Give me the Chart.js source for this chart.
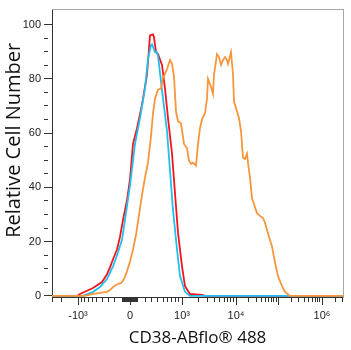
<!DOCTYPE html>
<html>
<head>
<meta charset="utf-8">
<script src="https://cdn.jsdelivr.net/npm/chart.js@4/dist/chart.umd.min.js"></script>
<style>
  html, body { margin: 0; background: #fff; }
  canvas { display: block; }
</style>
</head>
<body>
<canvas id="histChart" width="351" height="350"></canvas>
<script>
// x values are display channels of the biexponential axis (0 = fluorescence 0)
const redX = [-78, -53, -50, -37, -28, -23, -20, -17, -13, -10, -7, -3, 0, 3, 7, 12, 17, 20, 23, 24, 26, 28, 32, 35, 38, 42, 45, 48, 52, 55, 60, 72, 75, 213];
const redY = [0, 0, 0.7, 2.9, 5.1, 8.0, 10.5, 13.5, 17.1, 21.8, 28, 35.3, 43, 56, 61.8, 70.5, 81.5, 96, 96.4, 95.3, 89.8, 89.1, 85.1, 76.4, 65.5, 52.4, 37.8, 23.3, 10.9, 3.6, 0.7, 0.4, 0, 0];

const cyanX = [-78, -47, -37, -30, -23, -17, -12, -8, -5, 0, 5, 10, 15, 18, 21, 22, 25, 27, 28, 33, 37, 40, 43, 47, 50, 55, 60, 213];
const cyanY = [0, 0, 1.5, 3.3, 6.2, 10.9, 16, 20.7, 28, 40.7, 56, 65.5, 76.4, 87.3, 92.4, 92.7, 89.8, 89.8, 88.4, 72.7, 60.7, 46.2, 31.6, 17.1, 7.3, 1.5, 0, 0];

const orangeX = [-78, -45, -38, -30, -23, -20, -16, -12, -9, -6, -3, 0, 3, 6, 9, 12, 15, 18, 21, 23, 25, 28, 31, 33, 35, 37, 40, 42, 44, 46, 48, 51, 54, 57, 59, 61, 63, 66, 68, 70, 72, 75, 77, 78, 81, 83, 84, 87, 89, 91, 93, 95, 97, 98, 101, 103, 104, 107, 109, 111, 113, 115, 117, 118, 120, 122, 125, 127, 130, 133, 135, 137, 139, 142, 145, 148, 152, 155, 160, 213];
const orangeY = [0, 0, 0.7, 1.1, 1.5, 2.2, 3.6, 4.4, 4.7, 6.2, 9.1, 12.7, 17.1, 22.5, 29.8, 37.1, 43.6, 49.1, 58.9, 67.3, 72.7, 76, 76.4, 80.4, 81.8, 83.6, 86.9, 85.5, 80.7, 68, 64.4, 63.6, 56, 54.5, 49.8, 48.7, 49.1, 48, 56, 61.8, 65.1, 67.3, 72.7, 80, 77.1, 74.5, 81.5, 89.1, 88, 85.1, 86.9, 88, 86.9, 85.5, 89.8, 81.5, 71.6, 68, 65.5, 60.7, 50.9, 50.5, 52.4, 49.1, 43.6, 36, 32.7, 30.5, 29.5, 28.7, 26.9, 24.4, 21.8, 18.2, 12.4, 7.3, 3.6, 1.5, 0, 0];

const xMajorValues = [-1000, 0, 1000, 1e4, 1e5, 1e6];
const xMajorLabels = ["-10³", "0", "10³", "10⁴", "", "10⁶"];
const yMajorValues = [0, 20, 40, 60, 80, 100];

/* ---------- biexponential axis ---------- */
const LIN_HALF = 52;              // channels from 0 to 10^3
const LIN_WIDTH = 400;
const DECADES = [54, 42, 44, 44];  // channels per decade above 10^3
const X_MIN = -78, X_MAX = 213;

function toChannel(v) {
  const s = Math.sign(v), a = Math.abs(v);
  if (a <= 1000) return s * LIN_HALF * Math.asinh(a / LIN_WIDTH) / Math.asinh(1000 / LIN_WIDTH);
  let c = LIN_HALF, d = Math.log10(a) - 3, i = 0;
  while (d > 0) {
    c += Math.min(d, 1) * DECADES[Math.min(i, DECADES.length - 1)];
    d -= 1; i++;
  }
  return s * c;
}

const minorValues = [];
for (let m = 1; m <= 9; m++) { minorValues.push(m * 10, m * 100); }
for (let e = 3; e <= 6; e++) for (let m = 2; m <= 9; m++) minorValues.push(m * Math.pow(10, e));
const xTicks = [];
xMajorValues.forEach((v, i) => xTicks.push({ value: toChannel(v), text: xMajorLabels[i], isMajor: true }));
minorValues.forEach(v => {
  xTicks.push({ value: toChannel(v), text: "", isMajor: false });
  if (v < 1e4) xTicks.push({ value: toChannel(-v), text: "", isMajor: false });
});
const xTickList = xTicks.filter(t => t.value >= X_MIN && t.value <= X_MAX).sort((a, b) => a.value - b.value);

const yTickList = [];
for (let v = 0; v <= 100; v += 5) yTickList.push({ value: v, isMajor: yMajorValues.includes(v) });

const pts = (xs, ys) => xs.map((x, i) => ({ x, y: ys[i] }));
const tickFont = { family: "Liberation Sans", size: 11 };
const minorDash = c => (c.tick && c.tick.isMajor) ? [] : [4, 20];

/* ---------- Create Chart ---------- */
const chart = new Chart(document.getElementById("histChart"), {
  type: "line",
  data: {
    datasets: [
      { data: pts(orangeX, orangeY), borderColor: "#f7963c" },
      { data: pts(cyanX, cyanY), borderColor: "#20bff0" },
      { data: pts(redX, redY), borderColor: "#f5141c" },
    ],
  },
  options: {
    responsive: false,
    animation: false,
    layout: { padding: { top: 7, right: 8, left: 0, bottom: 0 } },
    elements: {
      line: { borderWidth: 1.8, tension: 0 },
      point: { radius: 0 },
    },
    plugins: { legend: { display: false }, tooltip: { enabled: false } },
    scales: {
      x: {
        type: "linear", position: "bottom", min: X_MIN, max: X_MAX,
        afterBuildTicks: s => { s.ticks = xTickList.map(t => ({ ...t })); },
        afterFit: s => { s.height = 53; },
        ticks: {
          autoSkip: false, maxRotation: 0, padding: 4, color: "#222", font: tickFont,
          callback: (v, i, ticks) => ticks[i].text,
        },
        grid: { drawOnChartArea: false, tickLength: 8, tickColor: "#333", tickBorderDash: minorDash },
        border: { color: "#333" },
        title: {
          display: true, text: "CD38-ABflo® 488", color: "#111",
          font: { family: "Open Sans", size: 17 }, padding: { top: 0, bottom: 2 },
        },
      },
      y: {
        type: "linear", position: "left", min: -0.4, max: 105.5,
        afterBuildTicks: s => { s.ticks = yTickList.map(t => ({ ...t })); },
        afterFit: s => { s.width = 52; },
        ticks: {
          autoSkip: false, padding: 3, color: "#222", font: tickFont,
          callback: (v, i, ticks) => ticks[i].isMajor ? String(v) : "",
        },
        grid: { drawOnChartArea: false, tickLength: 8, tickColor: "#333", tickBorderDash: minorDash },
        border: { color: "#333" },
        title: {
          display: true, text: "     Relative Cell Number", color: "#111",
          font: { family: "Open Sans", size: 20 }, padding: { top: 2, bottom: 0 },
        },
      },
      xTop: {
        type: "linear", position: "top", min: X_MIN, max: X_MAX,
        ticks: { display: false }, grid: { drawOnChartArea: false, drawTicks: false },
        border: { color: "#a8a8a8" },
        afterFit: s => { s.height = 0; },
      },
      yRight: {
        type: "linear", position: "right", axis: "y", min: -0.4, max: 105.5,
        ticks: { display: false }, grid: { drawOnChartArea: false, drawTicks: false },
        border: { color: "#a8a8a8" },
        afterFit: s => { s.width = 0; },
      },
    },
  },
});
</script>
</body>
</html>
